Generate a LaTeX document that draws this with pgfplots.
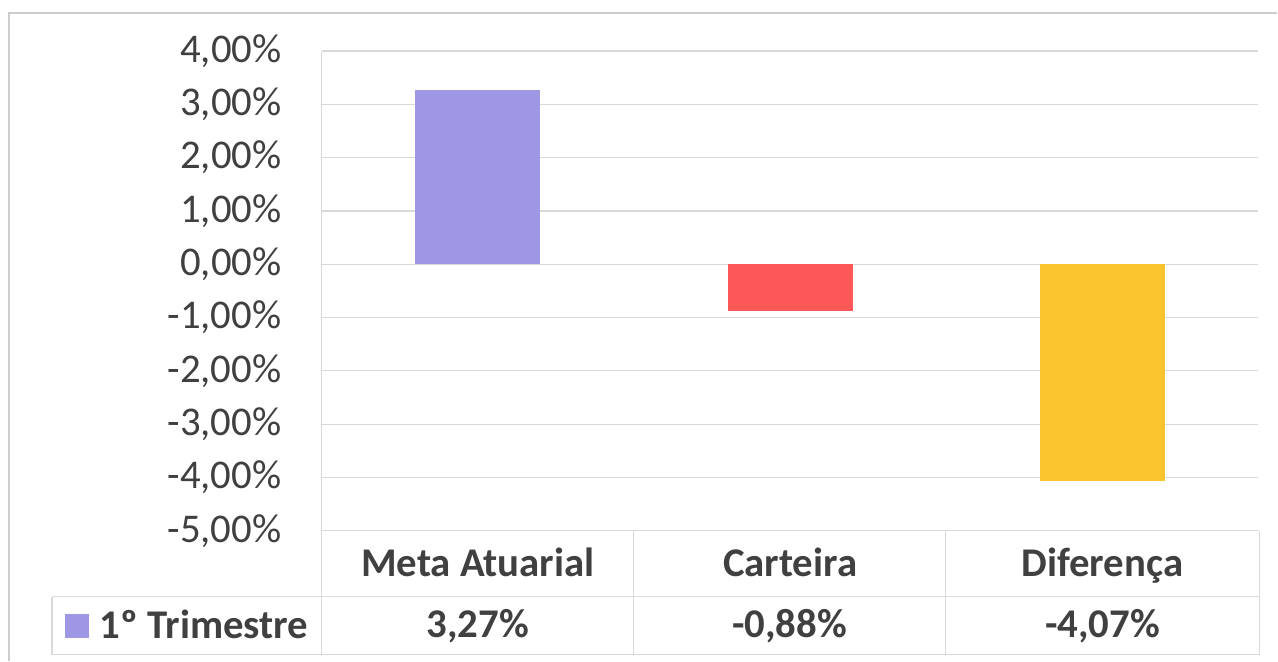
\documentclass[border=0pt]{standalone}
\usepackage{pgfplots}
\pgfplotsset{compat=1.18}
\usepackage{fontspec}
\setmainfont{Carlito}
\definecolor{lav}{RGB}{158,152,228}
\definecolor{redb}{RGB}{252,88,88}
\definecolor{yel}{RGB}{250,196,46}
\definecolor{gridc}{RGB}{217,217,217}
\definecolor{bordc}{RGB}{205,205,205}
\definecolor{txt}{RGB}{64,64,64}
\newcommand\lblfont{\fontsize{20.4pt}{24pt}\selectfont}
\begin{document}
\begin{tikzpicture}
\begin{scope}[x=0.5pt,y=-0.5pt]
\path[use as bounding box] (0,0) rectangle (1278,661);
\end{scope}
\begin{axis}[
  at={(161pt,-265.5pt)}, anchor=south west,
  scale only axis, width=468.5pt, height=240pt,
  xmin=-0.5, xmax=2.5, ymin=-5, ymax=4,
  axis line style={draw=none},
  major tick length=0pt, tick style={draw=none},
  ymajorgrids, grid style={gridc, line width=0.6pt},
  ytick={-5,-4,-3,-2,-1,0,1,2,3,4},
  yticklabels={{-5,00\%},{-4,00\%},{-3,00\%},{-2,00\%},{-1,00\%},{0,00\%},{1,00\%},{2,00\%},{3,00\%},{4,00\%}},
  yticklabel style={font=\lblfont, text=txt, anchor=east, inner sep=0pt, xshift=-20pt},
  xtick={0,1,2},
  xticklabels={Meta Atuarial,Carteira,Diferença},
  xticklabel style={font=\lblfont\bfseries, text=txt, anchor=base, inner sep=0pt, yshift=-23pt},
  legend style={draw=none, fill=none, at={(-0.2743,-0.1979)}, anchor=west,
    inner sep=0pt, outer sep=0pt, font=\lblfont\bfseries, text=txt,
    nodes={inner sep=0pt},
    /tikz/every odd column/.append style={column sep=5.5pt}},
  legend image code/.code={\fill[#1,draw=none] (0pt,-6pt) rectangle (12pt,6pt);},
  clip=false,
]
\addplot[ybar, bar width=62.5pt, bar shift=0pt, fill=lav, draw=none] coordinates {(0,3.27)};
\addlegendentry{1º Trimestre}
\addplot[ybar, bar width=62.5pt, bar shift=0pt, fill=redb, draw=none, forget plot] coordinates {(1,-0.88)};
\addplot[ybar, bar width=62.5pt, bar shift=0pt, fill=yel, draw=none, forget plot] coordinates {(2,-4.07)};
\end{axis}
\begin{scope}[x=0.5pt,y=-0.5pt]
\draw[bordc, line width=0.6pt] (9,661) -- (9,13) -- (1278,13);
\draw[gridc, line width=0.6pt] (322,52) -- (322,655);
\draw[gridc, line width=0.6pt] (322,531) -- (1260,531);
\draw[gridc, line width=0.6pt] (52,597) -- (1260,597);
\draw[gridc, line width=0.6pt] (52,655) -- (1260,655);
\draw[gridc, line width=0.6pt] (52,597) -- (52,655);
\foreach \x in {634,946,1260} \draw[gridc, line width=0.6pt] (\x,531) -- (\x,655);
\node[font=\lblfont\bfseries, text=txt, anchor=base, inner sep=0pt] at (478,638) {3,27\%};
\node[font=\lblfont\bfseries, text=txt, anchor=base, inner sep=0pt] at (790,638) {-0,88\%};
\node[font=\lblfont\bfseries, text=txt, anchor=base, inner sep=0pt] at (1103,638) {-4,07\%};
\end{scope}
\end{tikzpicture}
\end{document}
